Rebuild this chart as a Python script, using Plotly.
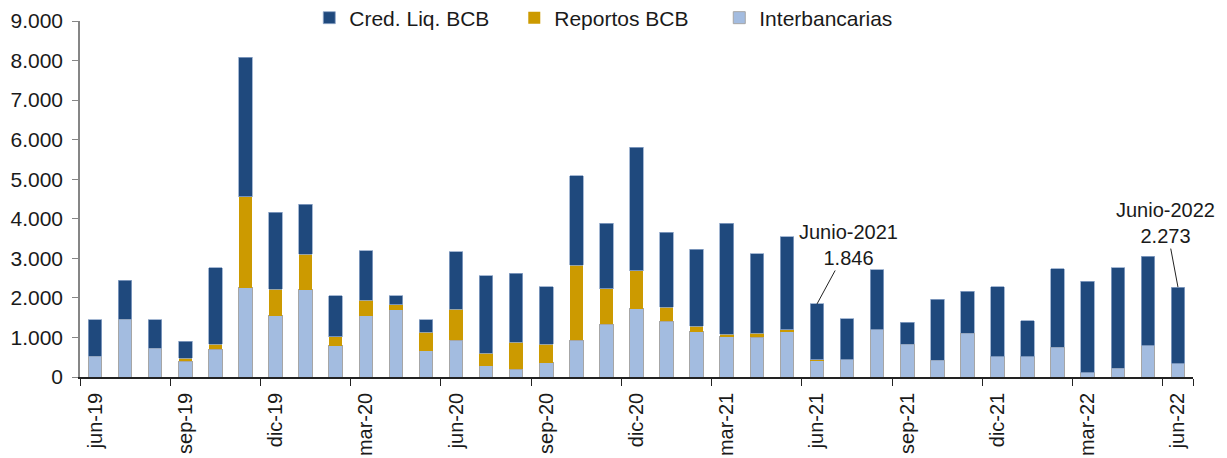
import plotly.graph_objects as go

months = ["jun-19","jul-19","ago-19","sep-19","oct-19","nov-19","dic-19","ene-20","feb-20","mar-20","abr-20","may-20",
          "jun-20","jul-20","ago-20","sep-20","oct-20","nov-20","dic-20","ene-21","feb-21","mar-21","abr-21","may-21",
          "jun-21","jul-21","ago-21","sep-21","oct-21","nov-21","dic-21","ene-22","feb-22","mar-22","abr-22","may-22","jun-22"]

interbancarias = [530,1458,733,400,700,2260,1550,2200,790,1550,1700,670,
                  935,280,195,355,935,1340,1730,1415,1140,1020,1000,1155,
                  420,430,1198,834,422,1112,506,515,758,111,220,784,339]
reportos = [0,0,0,70,125,2300,670,900,230,390,130,460,
            775,320,680,470,1890,885,960,345,145,60,105,40,
            15,0,0,0,0,0,0,0,0,0,0,0,0]
cred_liq = [920,985,718,430,1940,3530,1950,1270,1030,1255,225,320,
            1460,1960,1745,1460,2265,1660,3115,1900,1945,2805,2005,2345,
            1411,1046,1517,556,1542,1054,1779,901,1982,2308,2545,2267,1934]

tick_labels = ["jun-19","sep-19","dic-19","mar-20","jun-20","sep-20","dic-20","mar-21","jun-21","sep-21","dic-21","mar-22","jun-22"]
y_ticks = [0,1000,2000,3000,4000,5000,6000,7000,8000,9000]
y_tick_text = ["0","1.000","2.000","3.000","4.000","5.000","6.000","7.000","8.000","9.000"]

font_family = "Liberation Sans, Arial, sans-serif"

fig = go.Figure()
fig.add_trace(go.Bar(x=months, y=interbancarias, name="Interbancarias",
                     marker=dict(color="#A3BCE0", line=dict(color="#A6A6A6", width=1))))
fig.add_trace(go.Bar(x=months, y=reportos, name="Reportos BCB",
                     marker=dict(color="#CC9A00", line=dict(color="#CC9A00", width=0))))
fig.add_trace(go.Bar(x=months, y=cred_liq, name="Cred. Liq. BCB",
                     marker=dict(color="#1F497D", line=dict(color="#8EA6C8", width=0.8))))

fig.update_layout(
    barmode="stack",
    bargap=0.55,
    width=1227, height=458,
    margin=dict(l=72, r=42, t=13, b=89, autoexpand=False),
    paper_bgcolor="white", plot_bgcolor="white",
    font=dict(family=font_family, size=21, color="#1a1a1a"),
    legend=dict(orientation="h", traceorder="reversed", x=0.206, y=1.0084,
                xanchor="left", yanchor="middle", bgcolor="rgba(0,0,0,0)",
                font=dict(size=21), itemwidth=30, tracegroupgap=0,
                entrywidth=160, entrywidthmode="pixels"),
    xaxis=dict(type="category", range=[-0.5, len(months) - 0.5], autorange=False,
               tickmode="array", tickvals=tick_labels, ticktext=tick_labels,
               tickangle=-90, tickson="boundaries", ticks="outside", ticklen=7,
               tickcolor="#222222", showline=True, linecolor="#222222", linewidth=1.5,
               showgrid=False, tickfont=dict(size=20), automargin=False,
               ticklabelstandoff=6),
    yaxis=dict(range=[0, 9000], autorange=False, tickmode="array", tickvals=y_ticks, ticktext=y_tick_text,
               ticks="outside", ticklen=6, tickcolor="#868686", showline=True,
               linecolor="#868686", linewidth=1.5, showgrid=False, zeroline=False,
               tickfont=dict(size=21), automargin=False, ticklabelstandoff=5),
    annotations=[
        dict(x="jun-21", y=1846, xref="x", yref="y", text="Junio-2021<br>1.846",
             showarrow=True, arrowhead=0, arrowwidth=1, arrowcolor="#222222",
             ax=32, ay=-59, font=dict(size=20), align="center"),
        dict(x="jun-22", y=2273, xref="x", yref="y", text="Junio-2022<br>2.273",
             showarrow=True, arrowhead=0, arrowwidth=1, arrowcolor="#222222",
             ax=-12, ay=-64, font=dict(size=20), align="center"),
    ],
)

fig.write_html("out.html")
